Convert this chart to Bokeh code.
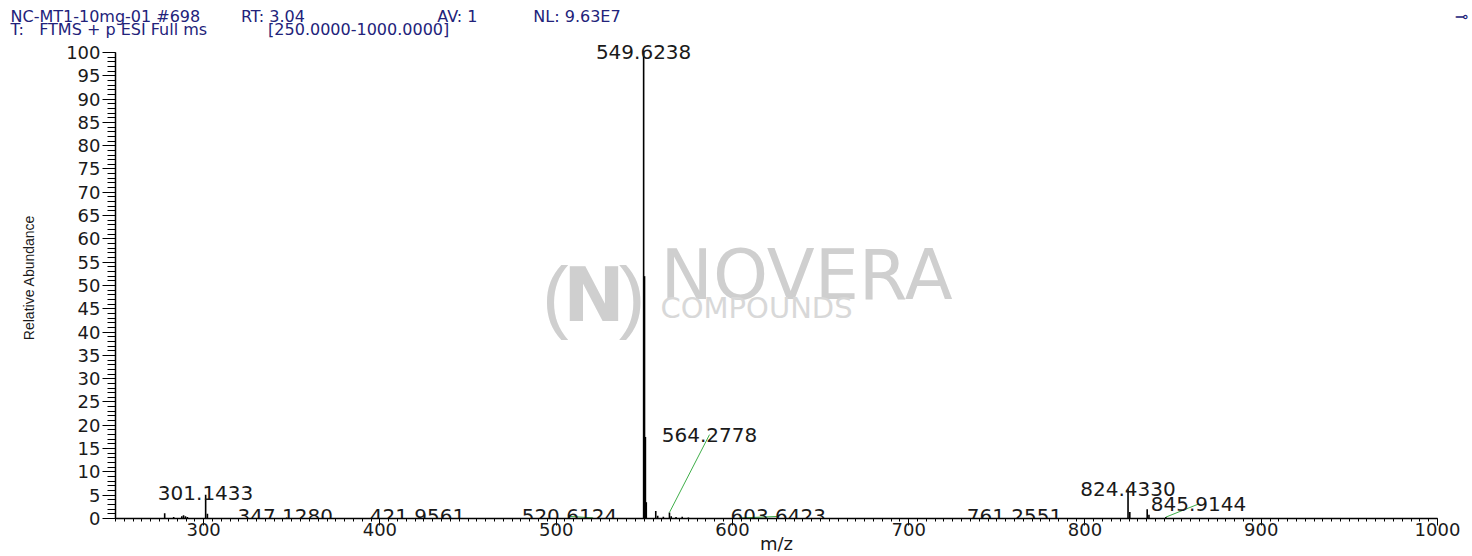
from bokeh.plotting import figure
from bokeh.models import Range1d, FixedTicker, Label, ColumnDataSource, Title
from bokeh.embed import file_html
from bokeh.resources import INLINE
from bokeh.core.properties import value

# ---- data ----
peak_mz = [277.9, 283.0, 287.6, 288.6, 289.7, 290.8, 301.1433, 302.147,
           347.1280, 421.9561, 520.6124, 549.6238, 550.1252, 550.6266, 551.128,
           556.5, 557.6, 560.8, 564.2778, 565.28, 568.0, 571.5, 575.0,
           603.6423, 761.2551, 824.4330, 825.436, 835.3, 836.3, 845.9144]
peak_int = [1.1, 0.3, 0.5, 0.7, 0.5, 0.3, 5.1, 1.0,
            0.2, 0.15, 0.15, 100.0, 52.0, 17.5, 3.5,
            1.6, 0.6, 0.4, 1.3, 0.5, 0.3, 0.4, 0.2,
            0.1, 0.1, 6.3, 1.4, 2.0, 0.8, 0.3]

label_text = ["301.1433", "347.1280", "421.9561", "520.6124", "549.6238",
              "564.2778", "603.6423", "761.2551", "824.4330", "845.9144"]
label_mz = [301.1433, 347.1280, 421.9561, 520.6124, 549.6238,
            564.2778, 603.6423, 761.2551, 824.4330, 845.9144]
label_int = [5.1, 0.2, 0.15, 0.15, 100.0, 1.3, 0.1, 0.1, 6.3, 0.3]
# where each label text sits (m/z, relative abundance)
label_x = [301.1, 346.3, 421.3, 507.5, 549.6, 587.0, 626.0, 760.0, 824.4, 864.4]
label_y = [5.4, 0.45, 0.45, 0.45, 100.2, 18.0, 0.45, 0.45, 6.4, 3.1]

x_ticks = [300, 400, 500, 600, 700, 800, 900, 1000]
x_minor_ticks = list(range(250, 1001, 5))
y_ticks = list(range(0, 101, 5))
y_minor_ticks = list(range(0, 101))

header_line1 = ["NC-MT1-10mg-01 #698", "RT: 3.04", "AV: 1", "NL: 9.63E7", "\u22b8"]
header_line2 = ["T:", "FTMS + p ESI Full ms", "[250.0000-1000.0000]"]
# spacing (in blanks) between the header fields
gaps1 = [8, 26, 11, 164]
gaps2 = [3, 12]

FONT = "DejaVu Sans"
NAVY = "#22227a"
NB = "\u00a0"


def join_fields(fields, gaps):
    out = fields[0]
    for g, f in zip(gaps, fields[1:]):
        out += NB * g + f
    return out


fig = figure(width=1472, height=556, x_range=Range1d(250, 1000), y_range=Range1d(0, 103.43),
             output_backend="svg", toolbar_location=None,
             min_border_left=115, min_border_right=35, min_border_top=36, min_border_bottom=38)
fig.xgrid.visible = False
fig.ygrid.visible = False
fig.outline_line_color = None
fig.background_fill_color = "white"
fig.border_fill_color = "white"

# header lines (line 2 is nearest to the plot, so it is added first)
fig.add_layout(Title(text=join_fields(header_line2, gaps2), align="left", offset=-105, standoff=-4,
                     text_font=FONT, text_font_size="16px", text_font_style="normal",
                     text_color=NAVY), "above")
fig.add_layout(Title(text=join_fields(header_line1, gaps1), align="left", offset=-105, standoff=-12,
                     text_font=FONT, text_font_size="16px", text_font_style="normal",
                     text_color=NAVY), "above")

xa = fig.xaxis[0]
xa.ticker = FixedTicker(ticks=x_ticks, minor_ticks=x_minor_ticks)
xa.bounds = (250, 1000)
xa.axis_line_color = "black"
xa.axis_line_width = 1.5
xa.major_tick_out = 7
xa.major_tick_in = 0
xa.minor_tick_out = 3
xa.minor_tick_in = 0
xa.major_tick_line_color = "black"
xa.minor_tick_line_color = "black"
xa.major_label_standoff = -3
xa.major_label_text_font = FONT
xa.major_label_text_font_size = "18px"
xa.major_label_text_color = "#1a1a1a"
xa.axis_label = "m/z"
xa.axis_label_text_font = FONT
xa.axis_label_text_font_size = "18px"
xa.axis_label_text_font_style = "normal"
xa.axis_label_text_color = "#1a1a1a"
xa.axis_label_standoff = -6

ya = fig.yaxis[0]
ya.ticker = FixedTicker(ticks=y_ticks, minor_ticks=y_minor_ticks)
ya.bounds = (0, 100)
ya.axis_line_color = "black"
ya.axis_line_width = 1.5
ya.major_tick_out = 13
ya.major_tick_in = 0
ya.minor_tick_out = 8
ya.minor_tick_in = 0
ya.major_tick_line_color = "black"
ya.minor_tick_line_color = "black"
ya.major_label_standoff = 2
ya.major_label_text_font = FONT
ya.major_label_text_font_size = "18px"
ya.major_label_text_color = "#1a1a1a"
ya.axis_label = "Relative Abundance"
ya.axis_label_text_font = "Liberation Sans"
ya.axis_label_text_font_size = "14px"
ya.axis_label_text_font_style = "normal"
ya.axis_label_text_color = "#1a1a1a"
ya.axis_label_standoff = 26

# watermark
wm_color = "#cfcfcf"
for t, x, size, style, fnt in [("(", 499.5, "80px", "normal", "Liberation Sans"),
                               ("N", 521.5, "74px", "bold", FONT),
                               (")", 543.0, "80px", "normal", "Liberation Sans")]:
    fig.add_layout(Label(x=x, y=47.9, text=t, text_align="center", text_baseline="alphabetic",
                         text_font=fnt, text_font_size=size, text_font_style=style,
                         text_color=wm_color, level="underlay"))
fig.add_layout(Label(x=559.2, y=52.2, text="NOVERA", text_align="left", text_baseline="alphabetic",
                     text_font=FONT, text_font_size="70px", text_color=wm_color, level="underlay"))
fig.add_layout(Label(x=559.2, y=45.1, text="COMPOUNDS", text_align="left", text_baseline="alphabetic",
                     text_font=FONT, text_font_size="29px", text_color="#d8d8d8", level="underlay"))

# spectrum sticks
src = ColumnDataSource(dict(mz=peak_mz, inten=peak_int))
fig.segment(x0="mz", y0=0, x1="mz", y1="inten", source=src, line_color="black", line_width=1.6)

# leader lines for labels shifted away from their peak
lead = dict(x0=[], y0=[], x1=[], y1=[])
for mz, it, lx, ly in zip(label_mz, label_int, label_x, label_y):
    if abs(lx - mz) > 3:
        lead["x0"].append(mz); lead["y0"].append(it)
        lead["x1"].append(lx); lead["y1"].append(ly)
fig.segment(x0="x0", y0="y0", x1="x1", y1="y1", source=ColumnDataSource(lead),
            line_color="#3fae49", line_width=1)

# peak labels
lsrc = ColumnDataSource(dict(x=label_x, y=label_y, t=label_text))
fig.text(x="x", y="y", text="t", source=lsrc, text_align="center", text_baseline="alphabetic",
         text_font=value(FONT), text_font_size="20px", text_color="#1a1a1a")

p = fig
open("out.html", "w").write(file_html(p, INLINE))
